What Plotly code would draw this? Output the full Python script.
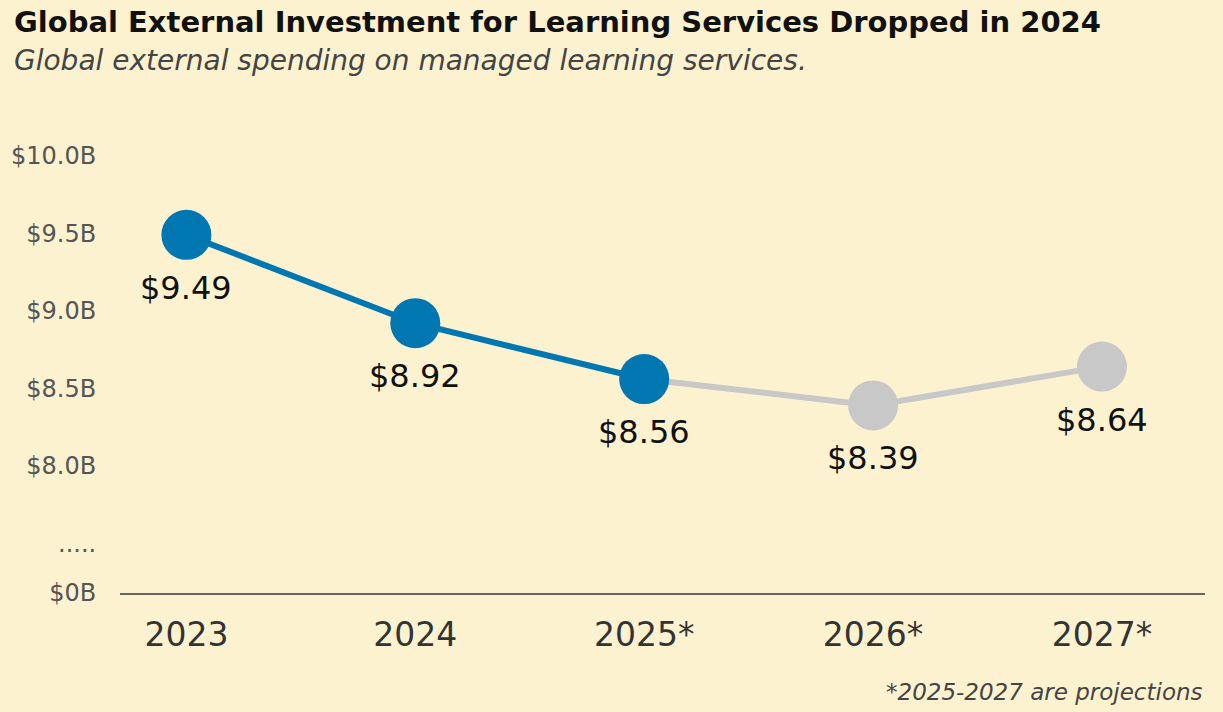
import plotly.graph_objects as go

# data
years = ["2023", "2024", "2025*", "2026*", "2027*"]
spend = [9.49, 8.92, 8.56, 8.39, 8.64]
labels = ["$9.49", "$8.92", "$8.56", "$8.39", "$8.64"]
n_actual = 3  # 2023-2025 drawn in blue, the rest projected in gray

y_ticktext = ["$0B", ".....", "$8.0B", "$8.5B", "$9.0B", "$9.5B", "$10.0B"]
y_tickvals = [7.18, 7.5, 8.0, 8.5, 9.0, 9.5, 10.0]

BG = "#FCF2D0"
BLUE = "#0077B0"
GRAY = "#C8C8C8"
FONT = "DejaVu Sans"

xs = list(range(len(years)))

fig = go.Figure()

# projected segment first so the blue 2025 marker sits on top
fig.add_trace(go.Scatter(
    x=xs[n_actual - 1:], y=spend[n_actual - 1:],
    mode="lines+markers",
    line=dict(color=GRAY, width=6),
    marker=dict(color=GRAY, size=50),
    hoverinfo="skip", showlegend=False,
))
fig.add_trace(go.Scatter(
    x=xs[:n_actual], y=spend[:n_actual],
    mode="lines+markers",
    line=dict(color=BLUE, width=6),
    marker=dict(color=BLUE, size=50),
    hoverinfo="skip", showlegend=False,
))

for x, y, t in zip(xs, spend, labels):
    fig.add_annotation(x=x, y=y, text=t, showarrow=False, yshift=-53,
                       font=dict(family=FONT, size=32, color="#111"))

fig.add_annotation(xref="paper", yref="paper", x=-0.0995, y=1.0, yshift=126,
                   xanchor="left", yanchor="middle", showarrow=False,
                   text="<b>Global External Investment for Learning Services Dropped in 2024</b>",
                   font=dict(family=FONT, size=29, color="#111"))
fig.add_annotation(xref="paper", yref="paper", x=-0.0995, y=1.0, yshift=88,
                   xanchor="left", yanchor="middle", showarrow=False,
                   text="<i>Global external spending on managed learning services.</i>",
                   font=dict(family=FONT, size=28, color="#444"))
fig.add_annotation(xref="paper", yref="paper", x=1.0, y=0.0, yshift=-99,
                   xanchor="right", yanchor="middle", showarrow=False,
                   text="<i>*2025-2027 are projections</i>",
                   font=dict(family=FONT, size=23, color="#444"))

fig.update_layout(
    width=1223, height=712,
    paper_bgcolor=BG, plot_bgcolor=BG,
    margin=dict(l=120, r=18, t=148, b=119),
    font=dict(family=FONT),
)
fig.update_xaxes(
    range=[-0.29, 4.45], tickvals=xs, ticktext=years,
    showgrid=False, zeroline=False,
    showline=True, linecolor="#666", linewidth=2,
    ticks="outside", ticklen=11, tickcolor=BG,
    tickfont=dict(family=FONT, size=33, color="#333"),
)
fig.update_yaxes(
    range=[7.18, 10.05], tickvals=y_tickvals, ticktext=y_ticktext,
    showgrid=False, zeroline=False, showline=False,
    ticks="outside", ticklen=18, tickcolor=BG,
    tickfont=dict(family=FONT, size=24, color="#555"),
)

fig.write_html("out.html", config={"displayModeBar": False},
               post_script="document.body.style.margin='0';")
